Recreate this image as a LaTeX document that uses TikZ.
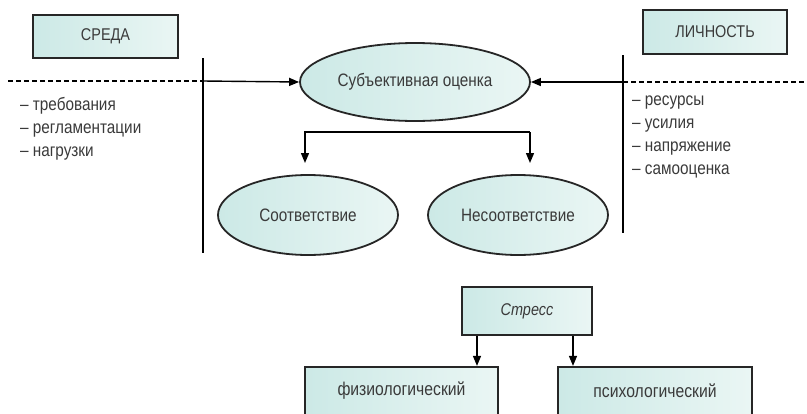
\documentclass[tikz,border=0pt]{standalone}
\usepackage{fontspec}
\setmainfont{Liberation Sans}[FakeStretch=0.85]
\usetikzlibrary{shapes.geometric,arrows.meta,positioning}
\definecolor{boxfill}{RGB}{204,233,230}
\definecolor{boxlight}{RGB}{234,246,244}
\definecolor{inkgray}{RGB}{58,58,58}
\tikzset{
  framebox/.style={draw=black!85,line width=2.2pt,left color=boxfill,right color=boxlight,
    text=inkgray,font=\fontsize{17}{19}\selectfont,inner sep=2pt},
  oval/.style={ellipse,draw=black!85,line width=1.8pt,left color=boxfill,right color=boxlight,
    text=inkgray,font=\fontsize{18}{20}\selectfont,inner sep=0pt},
  link/.style={line width=1.4pt,-{Triangle[length=10pt,width=8pt]}},
  dashline/.style={line width=1.2pt,dash pattern=on 5pt off 3pt},
  listtext/.style={text=inkgray,font=\fontsize{18}{23}\selectfont,align=left,inner sep=0pt}
}
\begin{document}
\begin{tikzpicture}[x=1pt,y=-1pt]
\useasboundingbox (0,0) rectangle (807,413);
% headers
\node[framebox,minimum width=145pt,minimum height=43pt] (sreda) at (105.5,36.5) {СРЕДА};
\node[framebox,minimum width=144pt,minimum height=44pt] (lichnost) at (715,32) {ЛИЧНОСТЬ};

% evaluation
\node[oval,minimum width=230pt,minimum height=78pt] (ocenka) at (415,82) {Субъективная оценка};
\node[oval,minimum width=180pt,minimum height=80pt] (sootv) at (308,215) {Соответствие};
\node[oval,minimum width=180pt,minimum height=80pt] (nesootv) at (518,215) {Несоответствие};

% borders
\coordinate (lt) at (203,58);
\coordinate (lb) at (203,253);
\coordinate (rt) at (623,55);
\coordinate (rb) at (623,233);
\coordinate (lx) at (203,81);
\coordinate (rx) at (623,82);
\coordinate (dl) at (8,81);
\coordinate (dr) at (807,82);
\draw[line width=1.8pt] (lt)--(lb) (rt)--(rb);
\draw[dashline] (dl)--(lx) (rx)--(dr);
\draw[link] (lx)--(ocenka.west);
\draw[link] (rx)--(ocenka.east);

% lists
\node[listtext,anchor=north west] (trebov) at (20,97) {– требования\\– регламентации\\– нагрузки};
\node[listtext,anchor=north west] (resurs) at (632,96) {– ресурсы\\– усилия\\– напряжение\\– самооценка};

% bracket
\coordinate (bl) at (305,132);
\coordinate (br) at (530,132);
\draw[link] (br)--(bl)--(305,163);
\draw[link] (br)--(530,163);

% stress
\node[framebox,font=\fontsize{17}{19}\selectfont\itshape,minimum width=130pt,minimum height=48pt] (stress) at (527,311) {Стресс};
\node[framebox,font=\fontsize{18.5}{20}\selectfont,minimum width=193pt,minimum height=48pt] (fiz) at (401.5,391) {физиологический};
\node[framebox,font=\fontsize{18.5}{20}\selectfont,minimum width=194pt,minimum height=48pt] (psih) at (655,391) {психологический};
\draw[link] ([xshift=-50pt]stress.south)--([xshift=-50pt]stress.south |- fiz.north);
\draw[link] ([xshift=46pt]stress.south)--([xshift=46pt]stress.south |- psih.north);
\end{tikzpicture}
\end{document}
